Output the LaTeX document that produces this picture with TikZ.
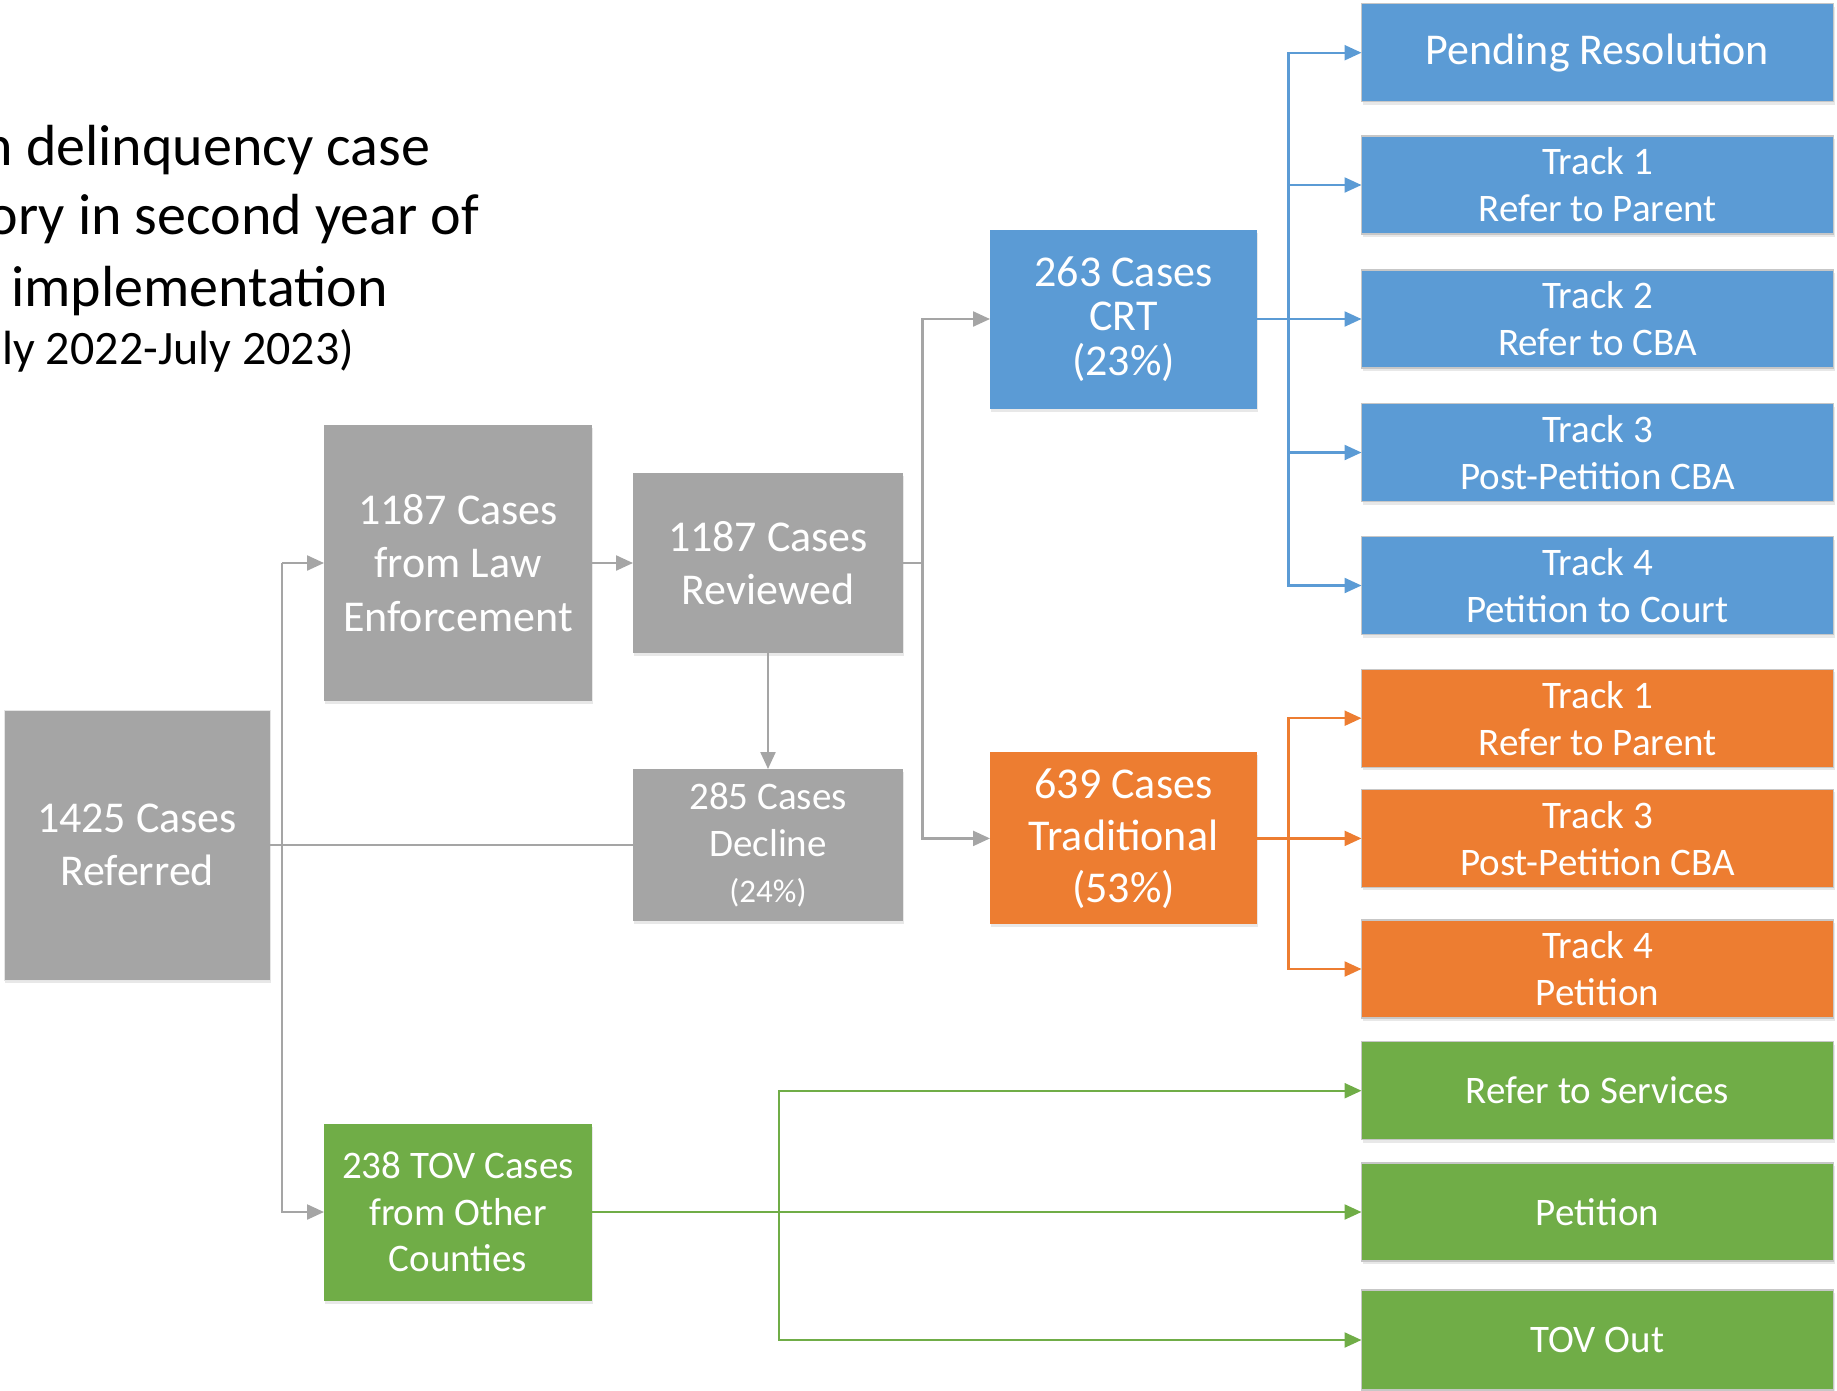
\documentclass[tikz,border=0pt]{standalone}
\usepackage{fontspec}
\setmainfont{Carlito}
\usetikzlibrary{arrows.meta,shadows}
\definecolor{cblue}{HTML}{5B9BD5}
\definecolor{corange}{HTML}{ED7D31}
\definecolor{cgreen}{HTML}{70AD47}
\definecolor{cgray}{HTML}{A5A5A5}
\begin{document}
\begin{tikzpicture}[x=1pt,y=-1pt,
  box/.style={rectangle, inner sep=0pt, outer sep=0pt, text=white, align=center,
    drop shadow={shadow xshift=1pt, shadow yshift=-3pt, fill=black!20, opacity=0.45}},
  graybox/.style={box, fill=cgray},
  bluebox/.style={box, fill=cblue},
  orangebox/.style={box, fill=corange},
  greenbox/.style={box, fill=cgreen},
  rightbox/.style={minimum width=472pt, minimum height=98pt, draw=black!22, line width=1.4pt},
  bigtext/.style={font=\fontsize{44}{53.5}\selectfont},
  midtext/.style={font=\fontsize{39}{46.5}\selectfont},
  twoline/.style={font=\fontsize{39}{47}\selectfont},
  title/.style={anchor=base east, inner sep=0pt, outer sep=0pt, text=black},
  conn/.style={line width=2.3pt},
  tip/.style={-{Triangle[length=17pt,width=15pt]}},
  gline/.style={conn, draw=cgray},
  bline/.style={conn, draw=cblue},
  oline/.style={conn, draw=corange},
  grline/.style={conn, draw=cgreen},
]
\useasboundingbox (0,0) rectangle (1837,1390);

% title
\node[title, font=\fontsize{58}{70}\selectfont] (t1) at (430,165) {n delinquency case};
\node[title, font=\fontsize{58}{70}\selectfont] (t2) at (479,234) {ory in second year of};
\node[title, font=\fontsize{58}{70}\selectfont] (t3) at (388,306) {implementation};
\node[title, font=\fontsize{48}{58}\selectfont] (t4) at (354,364) {ly 2022-July 2023)};

% left and middle boxes
\node[graybox, bigtext, draw=black!10, line width=1pt, minimum width=266pt, minimum height=270pt] (ref) at (137,845) {1425 Cases\\Referred};
\node[graybox, bigtext, minimum width=268pt, minimum height=276pt] (law) at (458,563) {1187 Cases\\from Law\\Enforcement};
\node[graybox, bigtext, minimum width=270pt, minimum height=180pt] (rev) at (768,563) {1187 Cases\\Reviewed};
\node[graybox, midtext, minimum width=270pt, minimum height=152pt] (dec) at (768,845) {285 Cases\\Decline\\{\fontsize{33}{46.5}\selectfont (24\%)}};
\node[greenbox, midtext, minimum width=268pt, minimum height=177pt] (tov) at (458,1212) {238 TOV Cases\\from Other\\Counties};
\node[bluebox, font=\fontsize{44}{44.6}\selectfont, minimum width=267pt, minimum height=179pt] (crt) at (1123.5,319) {263 Cases\\CRT\\(23\%)};
\node[orangebox, font=\fontsize{44}{52}\selectfont, minimum width=267pt, minimum height=172pt] (trad) at (1123.5,838.4) {639 Cases\\Traditional\\(53\%)};

% right column
\node[bluebox, rightbox, font=\fontsize{44}{53}\selectfont] (pend) at (1597.5,52.7) {Pending Resolution};
\node[bluebox, rightbox, twoline] (b1) at (1597.5,185) {Track 1\\Refer to Parent};
\node[bluebox, rightbox, twoline] (b2) at (1597.5,319) {Track 2\\Refer to CBA};
\node[bluebox, rightbox, twoline] (b3) at (1597.5,452.5) {Track 3\\Post-Petition CBA};
\node[bluebox, rightbox, twoline] (b4) at (1597.5,585.5) {Track 4\\Petition to Court};
\node[orangebox, rightbox, twoline] (o1) at (1597.5,718.2) {Track 1\\Refer to Parent};
\node[orangebox, rightbox, twoline] (o3) at (1597.5,838.4) {Track 3\\Post-Petition CBA};
\node[orangebox, rightbox, twoline] (o4) at (1597.5,969) {Track 4\\Petition};
\node[greenbox, rightbox, twoline] (g1) at (1597.5,1090.7) {Refer to Services};
\node[greenbox, rightbox, twoline] (g2) at (1597.5,1212) {Petition};
\node[greenbox, rightbox, twoline, minimum height=100pt] (g3) at (1597.5,1340) {TOV Out};

% gray connectors
\coordinate (lj) at (282,845);
\coordinate (rj) at (922.5,563);
\draw[gline] (ref.east) -- (dec.west);
\draw[gline] (lj) -- (lj |- law.west);
\draw[gline, tip] (lj |- law.west) -- (law.west);
\draw[gline, tip] (lj) |- (tov.west);
\draw[gline, tip] (law.east) -- (rev.west);
\draw[gline, tip] (rev.south) -- (dec.north);
\draw[gline] (rev.east) -- (rj);
\draw[gline, tip] (rj) |- (crt.west);
\draw[gline, tip] (rj) |- (trad.west);

% blue connectors
\coordinate (bj) at (1288.5,319);
\draw[bline, tip] (crt.east) -- (b2.west);
\draw[bline, tip] (bj) |- (pend.west);
\draw[bline, tip] (bj) |- (b1.west);
\draw[bline, tip] (bj) |- (b3.west);
\draw[bline, tip] (bj) |- (b4.west);

% orange connectors
\coordinate (oj) at (1288.5,838.4);
\draw[oline, tip] (trad.east) -- (o3.west);
\draw[oline, tip] (oj) |- (o1.west);
\draw[oline, tip] (oj) |- (o4.west);

% green connectors
\coordinate (gj) at (778.7,1212);
\draw[grline, tip] (tov.east) -- (g2.west);
\draw[grline, tip] (gj) |- (g1.west);
\draw[grline, tip] (gj) |- (g3.west);
\end{tikzpicture}
\end{document}
